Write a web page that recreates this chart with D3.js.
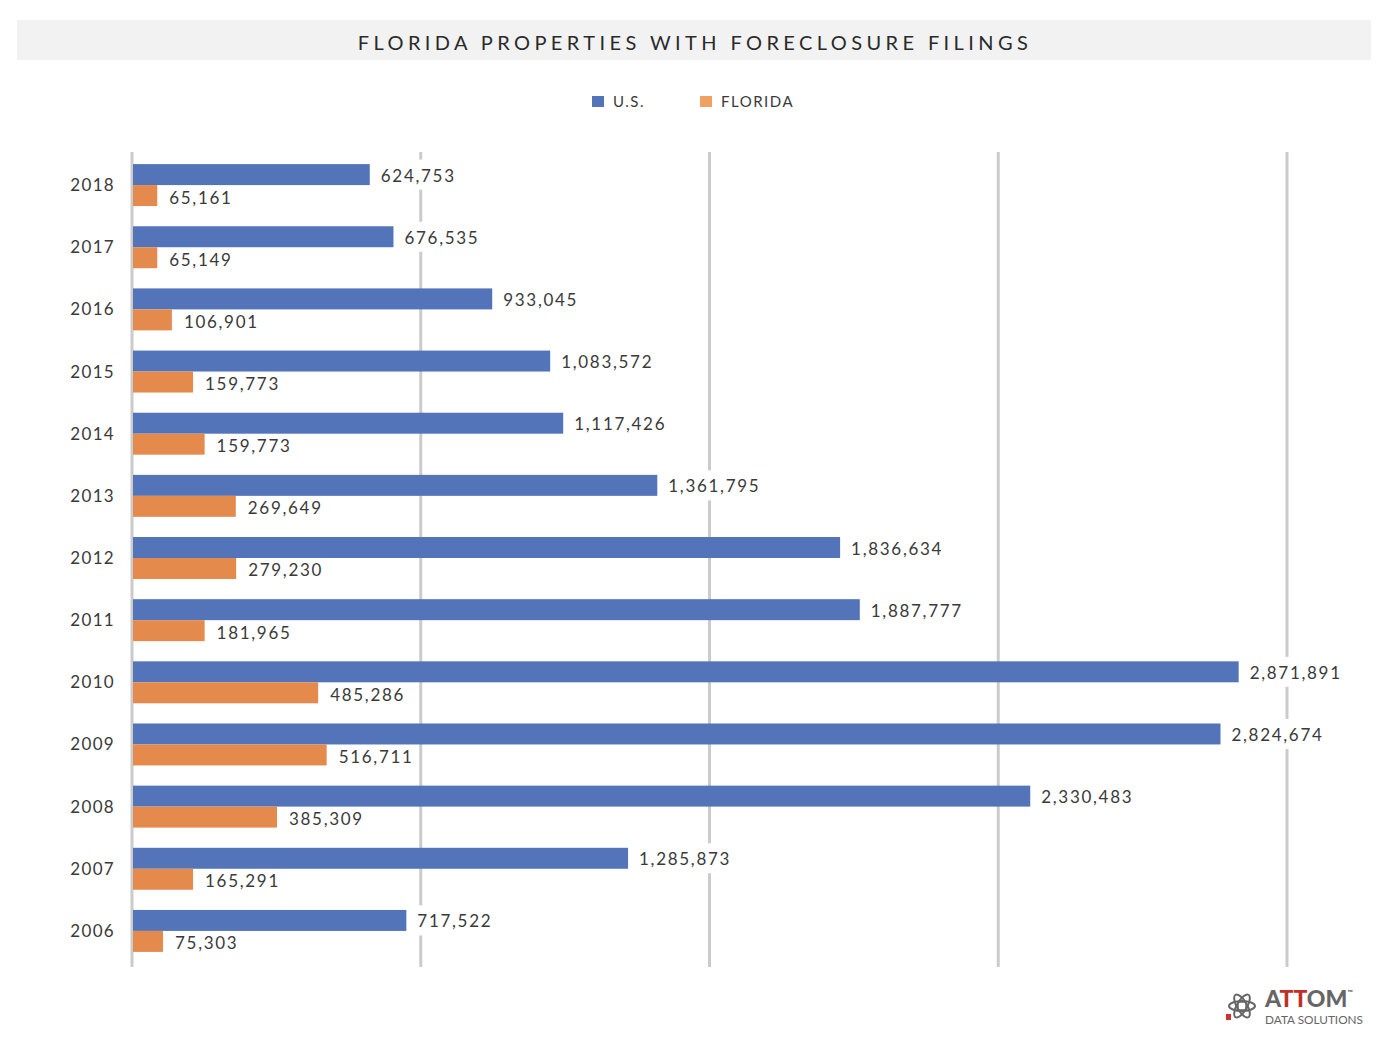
<!DOCTYPE html>
<html><head><meta charset="utf-8">
<script src="https://cdn.jsdelivr.net/npm/d3@7"></script>
<style>
html,body{margin:0;padding:0;background:#fff;}
text{font-family:Lato,"Open Sans",sans-serif;}
</style></head>
<body>
<svg id="chart" width="1390" height="1056"></svg>
<script>
const years = ["2018","2017","2016","2015","2014","2013","2012","2011","2010","2009","2008","2007","2006"];
const usValues = [615000,676535,933045,1083572,1117426,1361795,1836634,1887777,2871891,2824674,2330483,1285873,710000];
const flValues = [63000,63000,101000,156000,186000,267000,268000,186000,481000,503000,374000,156000,78000];
const usLabels = ["624,753","676,535","933,045","1,083,572","1,117,426","1,361,795","1,836,634","1,887,777","2,871,891","2,824,674","2,330,483","1,285,873","717,522"];
const flLabels = ["65,161","65,149","106,901","159,773","159,773","269,649","279,230","181,965","485,286","516,711","385,309","165,291","75,303"];
const gridTicks = [0,750000,1500000,2250000,3000000];
const seriesNames = ["U.S.","FLORIDA"];
const title = "FLORIDA PROPERTIES WITH FORECLOSURE FILINGS";

const svg = d3.select("#chart");
const blue = "#5474b9", orange = "#e48a4d", orangeLegend = "#eea262";
const textColor = "#3a3a3a";

// title band
svg.append("rect").attr("x",17).attr("y",20).attr("width",1354).attr("height",40).attr("fill","#f1f2f1");
svg.append("text").attr("x",695).attr("y",50).attr("text-anchor","middle")
  .attr("font-size",20).attr("letter-spacing","4.4px").attr("fill","#2a2a2a").text(title);

// legend
const legend = svg.append("g");
const legendX = [592,700];
[blue, orangeLegend].forEach((c,i)=>{
  legend.append("rect").attr("x",legendX[i]).attr("y",96).attr("width",12).attr("height",11).attr("fill",c);
  legend.append("text").attr("x",legendX[i]+21).attr("y",107).attr("font-size",15)
    .attr("letter-spacing","1.5px").attr("fill",textColor).text(seriesNames[i]);
});

const x = d3.scaleLinear().domain([0,3000000]).range([133,1288]);
const y = d3.scaleBand().domain(years).range([154,962]).paddingInner(0.325).paddingOuter(0.1625);
const sub = d3.scaleBand().domain(["us","fl"]).range([0,y.bandwidth()]);

// gridlines
svg.append("g").selectAll("line").data(gridTicks).join("line")
  .attr("x1",d=>x(d)-1).attr("x2",d=>x(d)-1).attr("y1",152).attr("y2",967)
  .attr("stroke","#cbcbcb").attr("stroke-width",3);

const rows = years.map((yr,i)=>({yr, us:usValues[i], fl:flValues[i], usLabel:usLabels[i], flLabel:flLabels[i]}));

const bgLayer = svg.append("g");
const barLayer = svg.append("g");
const labelLayer = svg.append("g");

barLayer.selectAll("rect.us").data(rows).join("rect").attr("class","us")
  .attr("x",x(0)).attr("y",d=>y(d.yr)+sub("us")).attr("width",d=>x(d.us)-x(0)).attr("height",sub.bandwidth())
  .attr("fill",blue);
barLayer.selectAll("rect.fl").data(rows).join("rect").attr("class","fl")
  .attr("x",x(0)).attr("y",d=>y(d.yr)+sub("fl")).attr("width",d=>x(d.fl)-x(0)).attr("height",sub.bandwidth())
  .attr("fill",orange);

const usLab = labelLayer.selectAll("text.us").data(rows).join("text").attr("class","us")
  .attr("x",d=>x(d.us)+11).attr("y",d=>y(d.yr)+sub("us")+sub.bandwidth()/2+7)
  .attr("font-size",17).attr("letter-spacing","1.7px").attr("fill",textColor).text(d=>d.usLabel);
const flLab = labelLayer.selectAll("text.fl").data(rows).join("text").attr("class","fl")
  .attr("x",d=>x(d.fl)+12).attr("y",d=>y(d.yr)+sub("fl")+sub.bandwidth()/2+8)
  .attr("font-size",17).attr("letter-spacing","1.7px").attr("fill",textColor).text(d=>d.flLabel);

[usLab, flLab].forEach(sel=>sel.each(function(){
  const b = this.getBBox();
  bgLayer.append("rect").attr("x",b.x-4).attr("y",b.y-5).attr("width",b.width+8).attr("height",b.height+9).attr("fill","#fff");
}));

// year labels
svg.append("g").selectAll("text").data(years).join("text")
  .attr("x",115).attr("y",d=>y(d)+y.bandwidth()/2+6).attr("text-anchor","end")
  .attr("font-size",17).attr("letter-spacing","1.3px").attr("fill",textColor).text(d=>d);

// logo
const logo = svg.append("g").attr("transform","translate(1242,1006)");
[0,60,120].forEach(a=>{
  logo.append("ellipse").attr("rx",13).attr("ry",5).attr("fill","none").attr("stroke","#666").attr("stroke-width",2)
    .attr("transform",`rotate(${a})`);
});
logo.append("rect").attr("x",-4).attr("y",-4).attr("width",8).attr("height",8).attr("fill","none").attr("stroke","#666").attr("stroke-width",1.5);
logo.append("rect").attr("x",-16).attr("y",8).attr("width",5).attr("height",6).attr("fill","#d0312d");
const lt = svg.append("text").attr("x",1265).attr("y",1007).attr("font-size",23).attr("font-weight",900)
  .attr("fill","#666");
lt.append("tspan").text("A");
lt.append("tspan").attr("fill","#c0302b").text("TT");
lt.append("tspan").text("OM");
lt.append("tspan").attr("font-size",7).attr("dy",-12).text("™");
svg.append("text").attr("x",1265).attr("y",1024).attr("font-size",11).attr("fill","#666")
  .attr("textLength",98).attr("lengthAdjust","spacingAndGlyphs").text("DATA SOLUTIONS");
</script>
</body></html>
